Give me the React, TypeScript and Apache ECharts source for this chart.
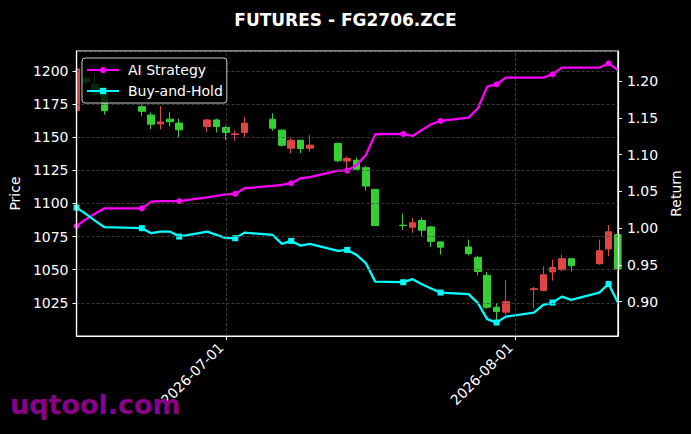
import React, { useEffect, useRef } from "react";
import * as echarts from "echarts";

const FONT = "DejaVu Sans";

const dates = [
  "2026-06-15", "2026-06-16", "2026-06-17", "2026-06-18", "2026-06-22", "2026-06-23", "2026-06-24",
  "2026-06-25", "2026-06-26", "2026-06-29", "2026-06-30", "2026-07-01", "2026-07-02", "2026-07-03",
  "2026-07-06", "2026-07-07", "2026-07-08", "2026-07-09", "2026-07-10", "2026-07-13", "2026-07-14",
  "2026-07-15", "2026-07-16", "2026-07-17", "2026-07-20", "2026-07-21", "2026-07-22", "2026-07-23",
  "2026-07-24", "2026-07-27", "2026-07-28", "2026-07-29", "2026-07-30", "2026-07-31", "2026-08-03",
  "2026-08-04", "2026-08-05", "2026-08-06", "2026-08-07", "2026-08-10", "2026-08-11", "2026-08-12",
];

const open = [
  1170, 1194.5, 1190, 1183, 1173, 1166.7, 1160, 1163.6, 1160.6, 1158, 1163, 1157.3, 1152, 1153.6,
  1163.6, 1155.3, 1141.7, 1147.7, 1141.7, 1145.2, 1132, 1132.6, 1127, 1110.6, 1083.6, 1082, 1087.1, 1082.3,
  1071, 1067.2, 1059.3, 1045.7, 1021.7, 1018, 1035, 1034.3, 1048.3, 1050, 1058.3, 1054.5, 1065.7, 1076.5,
];
const close = [
  1201.5, 1191.5, 1183, 1170, 1169.5, 1159.8, 1161.5, 1161.6, 1155.5, 1163, 1158, 1153.6, 1152.5, 1160.6,
  1156.8, 1143.9, 1147.7, 1141.4, 1144, 1132.2, 1134, 1125.8, 1113.1, 1083.3, 1083.3, 1085.4, 1079.8, 1071.4,
  1067, 1062.1, 1048.7, 1021.7, 1018.4, 1026, 1035.7, 1046.2, 1051.7, 1058.3, 1053, 1064.4, 1078.6, 1050.5,
];
const low = [
  1169, 1189, 1181, 1167, 1166, 1156, 1156, 1158, 1149.8, 1154, 1153.6, 1148, 1147.5, 1150,
  1154.8, 1143, 1137.9, 1137.9, 1139, 1131, 1124.5, 1125, 1109.8, 1083, 1080, 1077.8, 1075.2, 1067.2,
  1061.4, 1060.8, 1045.7, 1020.5, 1012.1, 1015.9, 1021, 1033.6, 1041.7, 1049.2, 1048.7, 1053.8, 1060.1, 1049,
];
const high = [
  1202, 1196, 1198, 1185, 1174.5, 1168.7, 1173.5, 1169, 1164, 1163.6, 1164, 1158.5, 1155, 1165,
  1168, 1156, 1149.8, 1148, 1151.5, 1146, 1135.5, 1134.6, 1128.3, 1111.1, 1092.2, 1089.2, 1089.2, 1083,
  1071.4, 1072.7, 1060.6, 1048.3, 1024.8, 1042.4, 1037, 1052.5, 1057.6, 1061.4, 1058.5, 1072.7, 1083.6, 1078,
];

const aiStrategy = [
  1.003, 1.012, 1.02, 1.027, 1.027, 1.0362, 1.037, 1.037, 1.037, 1.042, 1.044, 1.046, 1.0467, 1.0544,
  1.0576, 1.059, 1.0612, 1.068, 1.0694, 1.0784, 1.0784, 1.086, 1.0997, 1.1279, 1.1283, 1.1256, 1.1337, 1.1415,
  1.146, 1.1505, 1.1633, 1.1927, 1.1959, 1.2049, 1.2049, 1.2049, 1.2095, 1.2185, 1.2185, 1.2185, 1.2245, 1.2154,
];
const buyAndHold = [
  1.028, 1.0195, 1.01, 1.0014, 1.0, 0.9932, 0.9954, 0.9954, 0.9886, 0.9954, 0.9909, 0.9864, 0.9864, 0.994,
  0.9909, 0.9786, 0.9827, 0.9763, 0.9786, 0.9691, 0.9705, 0.9637, 0.9524, 0.9273, 0.9265, 0.9306, 0.9238, 0.918,
  0.9124, 0.9102, 0.898, 0.8762, 0.8716, 0.8797, 0.8852, 0.8956, 0.8988, 0.9069, 0.9024, 0.9124, 0.9242, 0.8988,
];

const monthTicks = ["2026-07-01", "2026-08-01"];
const xStart = "2026-06-15";
const xEnd = "2026-08-12";

const ts = (s: string) => {
  const [y, m, d] = s.split("-").map(Number);
  return new Date(y, m - 1, d).getTime();
};
const pad = (n: number) => (n < 10 ? "0" + n : "" + n);
const fmtDate = (v: number) => {
  const d = new Date(v);
  return d.getFullYear() + "-" + pad(d.getMonth() + 1) + "-" + pad(d.getDate());
};

const RED = "#e04444";
const GREEN = "#34d034";
const GRID = "#4a4a4a";

export default function App() {
  const ref = useRef<HTMLDivElement>(null);
  useEffect(() => {
    if (!ref.current) return;
    const chart = echarts.init(ref.current, null, { renderer: "svg" });
    const tickVals = monthTicks.map(ts);
    const axisFont = { color: "#fff", fontSize: 14, fontFamily: FONT };
    chart.setOption({
      animation: false,
      backgroundColor: "#000",
      textStyle: { fontFamily: FONT },
      title: {
        text: "FUTURES - FG2706.ZCE",
        left: "center",
        top: 6,
        textStyle: { color: "#fff", fontSize: 17, fontWeight: "bold", fontFamily: FONT },
      },
      legend: {
        data: ["AI Strategy", "Buy-and-Hold"],
        orient: "vertical",
        left: 82,
        top: 58,
        itemWidth: 32,
        itemHeight: 8,
        itemGap: 7,
        padding: [5, 4, 5, 4],
        backgroundColor: "rgba(0,0,0,0.8)",
        borderColor: "#cccccc",
        borderWidth: 1,
        borderRadius: 3,
        textStyle: { color: "#fff", fontSize: 14, fontFamily: FONT, padding: [0, 0, 0, 4] },
        z: 20,
      },
      grid: {
        left: 76,
        right: 70,
        top: 51,
        bottom: 98,
        show: true,
        borderColor: "#fff",
        borderWidth: 1.2,
        backgroundColor: "#000",
      },
      xAxis: {
        type: "value",
        min: ts(xStart),
        max: ts(xEnd),
        scale: true,
        z: 10,
        axisLine: { show: true, onZero: false, lineStyle: { color: "#fff", width: 1.2 } },
        axisTick: { show: true, length: 4, customValues: tickVals, lineStyle: { color: "#fff" } },
        axisLabel: {
          ...axisFont,
          customValues: tickVals,
          rotate: 45,
          margin: 14,
          verticalAlign: "bottom",
          formatter: (v: number) => fmtDate(v),
        },
        splitLine: { show: false },
      },
      yAxis: [
        {
          type: "value",
          position: "left",
          min: 1000,
          max: 1215,
          interval: 25,
          z: 10,
          name: "Price",
          nameLocation: "middle",
          nameGap: 51,
          nameRotate: 90,
          nameTextStyle: { color: "#fff", fontSize: 14, fontFamily: FONT },
          axisLine: { show: true, onZero: false, lineStyle: { color: "#fff", width: 1.2 } },
          axisTick: { show: true, length: 4, lineStyle: { color: "#fff" } },
          axisLabel: { ...axisFont, margin: 8, showMinLabel: false, showMaxLabel: false, formatter: (v: number) => String(v) },
          splitLine: { show: true, lineStyle: { color: GRID, type: [3, 2], width: 0.8 } },
        },
        {
          type: "value",
          position: "right",
          min: 0.8533,
          max: 1.2412,
          splitNumber: 8,
          z: 10,
          name: "Return",
          nameLocation: "middle",
          nameGap: 43,
          nameRotate: 90,
          nameTextStyle: { color: "#fff", fontSize: 14, fontFamily: FONT },
          axisLine: { show: true, onZero: false, lineStyle: { color: "#fff", width: 1.2 } },
          axisTick: { show: true, length: 4, lineStyle: { color: "#fff" } },
          axisLabel: {
            ...axisFont,
            margin: 9,
            showMinLabel: false,
            showMaxLabel: false,
            formatter: (v: number) => v.toFixed(2),
          },
          splitLine: { show: false },
        },
      ],
      graphic: [
        {
          type: "rect",
          shape: { x: 68.5, y: 55, width: 7, height: 65 },
          style: { fill: "#000" },
          z: 5,
        },
        {
          type: "rect",
          shape: { x: 621.6, y: 220, width: 6, height: 60 },
          style: { fill: "#000" },
          z: 5,
        },
        {
          type: "text",
          left: 10,
          top: 391,
          style: { text: "uqtool.com", fill: "#8b008b", font: 'bold 27px "DejaVu Sans"' },
          z: 100,
        },
      ],
      series: [
        {
          name: "Price",
          type: "candlestick",
          xAxisIndex: 0,
          yAxisIndex: 0,
          barWidth: 7,
          clip: true,
          encode: { x: 0, y: [1, 2, 3, 4] },
          data: dates.map((d, i) => [ts(d), open[i], close[i], low[i], high[i]]),
          itemStyle: { color: RED, color0: GREEN, borderColor: RED, borderColor0: GREEN, borderWidth: 1 },
          markLine: {
            silent: true,
            symbol: ["none", "none"],
            label: { show: false },
            lineStyle: { color: GRID, type: [3, 2], width: 0.8 },
            data: tickVals.map((v) => ({ xAxis: v })),
          },
          z: 2,
        },
        {
          name: "AI Strategy",
          type: "line",
          yAxisIndex: 1,
          symbol: "circle",
          symbolSize: 6,
          showSymbol: true,
          clip: true,
          data: dates.map((d, i) => ({ value: [ts(d), aiStrategy[i]], symbol: i % 4 === 0 ? "circle" : "none" })),
          lineStyle: { color: "#ff00ff", width: 2.3 },
          itemStyle: { color: "#ff00ff" },
          z: 3,
        },
        {
          name: "Buy-and-Hold",
          type: "line",
          yAxisIndex: 1,
          symbol: "rect",
          symbolSize: 6,
          showSymbol: true,
          clip: true,
          data: dates.map((d, i) => ({ value: [ts(d), buyAndHold[i]], symbol: i % 4 === 0 ? "rect" : "none" })),
          lineStyle: { color: "#00ffff", width: 2.3 },
          itemStyle: { color: "#00ffff" },
          z: 3,
        },
      ],
    });
    return () => chart.dispose();
  }, []);
  return (
    <div
      ref={ref}
      style={{ position: "fixed", left: 0, top: 0, width: 691, height: 434, background: "#000" }}
    />
  );
}
